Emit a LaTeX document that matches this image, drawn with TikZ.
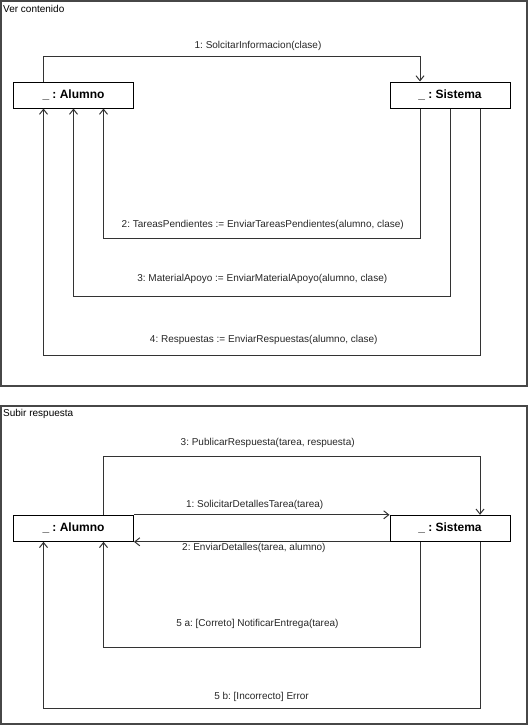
\documentclass[tikz,border=0pt]{standalone}
\usepackage{fontspec}
\setmainfont{Liberation Sans}
\frenchspacing
\usetikzlibrary{arrows.meta}
\begin{document}
\begin{tikzpicture}[x=1pt,y=-1pt,
  frame/.style={draw=black!72, line width=2pt},
  obj/.style={draw=black, line width=1pt, fill=white, minimum width=120pt,
    minimum height=26pt, inner sep=0pt, font=\fontsize{12}{14}\selectfont\bfseries},
  msg/.style={draw=black!80, line width=1pt, -{Straight Barb[length=5pt,width=8pt]}},
  lbl/.style={font=\fontsize{10}{12}\selectfont, inner sep=0pt, text=black!85},
  title/.style={font=\fontsize{10}{12}\selectfont, inner sep=0pt, anchor=west}]
\useasboundingbox (0,0) rectangle (529,726);

% ---- Ver contenido ----
\draw[frame] (1,1) rectangle (527,386);
\node[title] (t1) at (3,9) {Ver contenido};
\node[obj] (al) at (73.5,95) {\_ : Alumno};
\node[obj] (si) at (450,95) {\_ : Sistema};

\draw[msg] ([xshift=-30pt]al.north) -- ++(0,-24.6) -| ([xshift=-30pt]si.north);
\draw[msg] ([xshift=-30pt]si.south) -- ++(0,130) -| ([xshift=30pt]al.south);
\draw[msg] (si.south) -- ++(0,187.5) -| (al.south);
\draw[msg] ([xshift=30pt]si.south) -- ++(0,247) -| ([xshift=-30pt]al.south);

\node[lbl] (m1) at (258,45.5) {1: SolcitarInformacion(clase)};
\node[lbl] (m2) at (262.8,225.3) {2: TareasPendientes := EnviarTareasPendientes(alumno, clase)};
\node[lbl] (m3) at (262.3,279.3) {3: MaterialApoyo := EnviarMaterialApoyo(alumno, clase)};
\node[lbl] (m4) at (263.8,340) {4: Respuestas := EnviarRespuestas(alumno, clase)};

% ---- Subir respuesta ----
\draw[frame] (1,406) rectangle (527,724);
\node[title] (t2) at (3,414) {Subir respuesta};
\node[obj] (al2) at (73.5,528.3) {\_ : Alumno};
\node[obj] (si2) at (450,528.3) {\_ : Sistema};

\draw[msg] ([xshift=30pt]al2.north) -- ++(0,-58.6) -| ([xshift=30pt]si2.north);
\draw[msg] (al2.north east) -- (si2.north west);
\draw[msg] (si2.south west) -- (al2.south east);
\draw[msg] ([xshift=-30pt]si2.south) -- ++(0,105.4) -| ([xshift=30pt]al2.south);
\draw[msg] ([xshift=30pt]si2.south) -- ++(0,166.5) -| ([xshift=-30pt]al2.south);

\node[lbl] (n3) at (267.7,442.8) {3: PublicarRespuesta(tarea, respuesta)};
\node[lbl] (n1) at (254.7,505.3) {1: SolicitarDetallesTarea(tarea)};
\node[lbl] (n2) at (253.9,548.4) {2: EnviarDetalles(tarea, alumno)};
\node[lbl] (n5a) at (257.4,624.1) {5 a: [Correto] NotificarEntrega(tarea)};
\node[lbl] (n5b) at (261.5,696.6) {5 b: [Incorrecto] Error};
\end{tikzpicture}
\end{document}
